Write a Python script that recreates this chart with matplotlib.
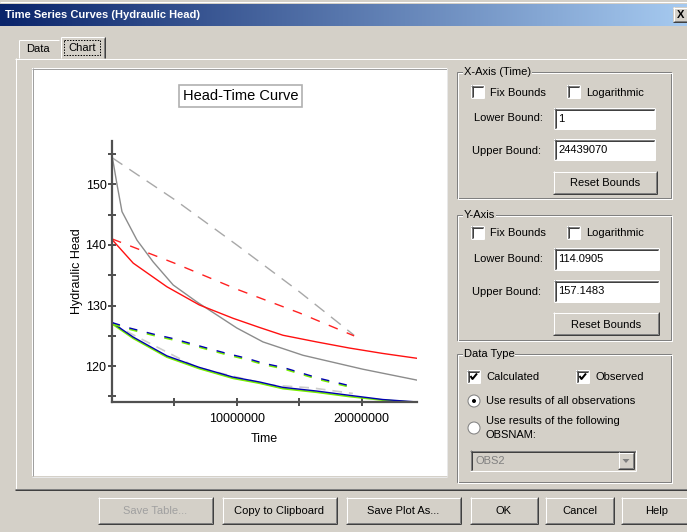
import numpy as np
import matplotlib
matplotlib.use("Agg")
import matplotlib.pyplot as plt
from matplotlib.patches import Rectangle, Circle, Polygon
from matplotlib.ticker import MultipleLocator, FuncFormatter

plt.rcParams['font.family'] = ['Liberation Sans', 'DejaVu Sans']
plt.rcParams['lines.scale_dashes'] = False

# ---- data (time in millions, head) ----
gray_calc_t = [0, 0.4, 0.8, 2.0, 3.3, 4.9, 6.8, 10.0, 12.1, 15.3, 20.1, 24.44]
gray_calc_h = [154.8, 150.0, 145.5, 140.8, 137.2, 133.4, 130.6, 126.3, 124.0, 121.8, 119.5, 117.7]
gray_obs_t = [0, 5.0, 10.0, 15.0, 19.4]
gray_obs_h = [154.4, 147.5, 140.0, 132.3, 125.1]

red_calc_t = [0, 1.7, 4.4, 7.0, 9.7, 11.8, 13.7, 16.4, 19.0, 21.7, 24.44]
red_calc_h = [140.9, 137.0, 133.1, 130.1, 127.9, 126.4, 125.1, 124.0, 123.0, 122.1, 121.3]
red_obs_t = [0, 5.0, 10.0, 15.0, 19.4]
red_obs_h = [141.0, 137.0, 132.7, 128.8, 125.0]

blue_calc_t = [0, 1.7, 4.4, 7.0, 9.7, 11.8, 13.7, 16.4, 19.0, 21.7, 24.44]
blue_calc_h = [127.2, 124.8, 121.7, 119.8, 118.2, 117.4, 116.5, 115.9, 115.2, 114.5, 114.1]
green_calc_h = [127.0, 124.6, 121.5, 119.6, 118.0, 117.2, 116.3, 115.7, 115.0, 114.4, 114.0]
blue_obs_t = [0, 1.4, 3.3, 4.8, 6.2, 7.6, 9.2, 10.8, 12.1, 13.7, 15.3, 16.6, 18.2, 19.4]
blue_obs_h = [127.2, 126.3, 125.3, 124.6, 123.8, 123.0, 122.1, 121.3, 120.5, 119.8, 118.8, 118.0, 117.2, 116.6]
green_obs_h = [127.0, 126.1, 125.1, 124.4, 123.6, 122.8, 121.9, 121.1, 120.3, 119.6, 118.6, 117.8, 117.0, 116.4]
lgray_obs_t = [0, 2.24, 6.8, 12.6, 16.1, 19.3]
lgray_obs_h = [127.0, 124.6, 119.8, 116.9, 116.4, 115.5]

x_lower, x_upper = 1, 24439070
y_lower, y_upper = 114.0905, 157.1483

FACE = '#d4d0c8'
PX = 0.72

fig = plt.figure(figsize=(6.87, 5.32), dpi=100)
fig.patch.set_facecolor(FACE)
bg = fig.add_axes([0, 0, 1, 1])
bg.set_xlim(0, 687)
bg.set_ylim(532, 0)
bg.axis('off')


def hline(x0, x1, y, c):
    bg.plot([x0, x1], [y, y], color=c, lw=PX, solid_capstyle='butt')


def vline(x, y0, y1, c):
    bg.plot([x, x], [y0, y1], color=c, lw=PX, solid_capstyle='butt')


def rect(x0, y0, x1, y1, fc):
    bg.add_patch(Rectangle((x0, y0), x1 - x0, y1 - y0, facecolor=fc, edgecolor='none'))


def raised(x0, y0, x1, y1):
    rect(x0, y0, x1, y1, FACE)
    hline(x0, x1, y0 + 0.5, 'white')
    vline(x0 + 0.5, y0, y1, 'white')
    hline(x0, x1, y1 - 0.5, '#404040')
    vline(x1 - 0.5, y0, y1, '#404040')
    hline(x0 + 1, x1 - 1, y1 - 1.5, '#808080')
    vline(x1 - 1.5, y0 + 1, y1 - 1, '#808080')


def sunken(x0, y0, x1, y1, fc='white'):
    rect(x0, y0, x1, y1, fc)
    hline(x0, x1, y0 + 0.5, '#808080')
    vline(x0 + 0.5, y0, y1, '#808080')
    hline(x0 + 1, x1 - 1, y0 + 1.5, '#404040')
    vline(x0 + 1.5, y0 + 1, y1 - 1, '#404040')
    hline(x0, x1, y1 - 0.5, 'white')
    vline(x1 - 0.5, y0, y1, 'white')


def ui_text(x, y, s, color='black', ha='left', **kw):
    bg.text(x, y + 1, s, color=color, ha=ha, va='center', fontsize=8, **kw)


def button(x0, y0, x1, y1, label, color='black'):
    raised(x0, y0, x1, y1)
    ui_text((x0 + x1) / 2, (y0 + y1) / 2, label, color=color, ha='center')


def group(x0, y0, x1, y1, label):
    bg.add_patch(Rectangle((x0, y0), x1 - x0 - 1, y1 - y0 - 1, fill=False,
                           edgecolor='#808080', lw=PX))
    bg.add_patch(Rectangle((x0 + 1, y0 + 1), x1 - x0 - 1, y1 - y0 - 1, fill=False,
                           edgecolor='white', lw=PX))
    ui_text(x0 + 7, y0 - 1, label, bbox=dict(fc=FACE, ec='none', pad=0.5))


def checkbox(x, y, label, checked=False):
    sunken(x, y, x + 13, y + 13)
    if checked:
        bg.plot([x + 3.5, x + 5.5, x + 10], [y + 6, y + 9, y + 3.5], color='black',
                lw=2 * PX, solid_capstyle='butt')
    ui_text(x + 19, y + 6.5, label)


def radio(cx, cy, selected=False):
    bg.add_patch(Circle((cx, cy), 6, facecolor='white', edgecolor='#808080', lw=PX))
    if selected:
        bg.add_patch(Circle((cx, cy), 2, facecolor='black', edgecolor='none'))


# title bar
grad = np.linspace(0, 1, 256)
c0 = np.array([10, 36, 106]) / 255
c1 = np.array([166, 202, 240]) / 255
img = (c0[None, :] * (1 - grad[:, None]) + c1[None, :] * grad[:, None])[None, :, :]
bg.imshow(img, extent=(0, 687, 26, 4), aspect='auto', zorder=0.5)
bg.text(5, 15, 'Time Series Curves (Hydraulic Head)', color='white', fontsize=8,
        fontweight='bold', va='center', ha='left')
raised(673, 7, 689, 22)
bg.text(681, 14.5, 'X', fontsize=8, fontweight='bold', ha='center', va='center')
hline(0, 687, 1.5, 'white')

# tab panel
hline(15, 687, 58.5, 'white')
vline(15.5, 58, 489, 'white')
hline(15, 687, 488.5, '#808080')
hline(15, 687, 489.5, '#404040')

# tabs
rect(18, 39, 59, 58, FACE)
hline(19, 59, 39.5, 'white')
vline(18.5, 40, 58, 'white')
ui_text(38, 48, 'Data', ha='center')
rect(60, 36, 105, 59.5, FACE)
hline(61, 104, 36.5, 'white')
vline(60.5, 37, 58, 'white')
vline(104.5, 37, 58, '#404040')
vline(103.5, 38, 58, '#808080')
ui_text(82, 47, 'Chart', ha='center')
bg.add_patch(Rectangle((64, 40), 36, 15, fill=False, edgecolor='black', lw=PX,
                       linestyle=(0, (1, 1))))

# chart white area
rect(32, 68, 447, 476, 'white')
hline(32, 447, 68.5, '#a0a0a0')
vline(32.5, 68, 476, '#a0a0a0')
hline(32, 447, 476.5, '#e8e8e8')
vline(446.5, 68, 476, '#e8e8e8')
bg.text(240.5, 96, 'Head-Time Curve', fontsize=10.5, ha='center', va='center',
        bbox=dict(boxstyle='square,pad=0.25', fc='white', ec='#b0b0b0', lw=1.2))

# X axis group
group(457, 72, 672, 199, 'X-Axis (Time)')
checkbox(471, 85, 'Fix Bounds')
checkbox(567, 85, 'Logarithmic')
ui_text(474, 117, 'Lower Bound:')
sunken(554, 108, 655, 129)
ui_text(558, 118, '1')
ui_text(472, 150, 'Upper Bound:')
sunken(554, 139, 655, 160)
ui_text(558, 149, '24439070')
button(553, 171, 657, 194, 'Reset Bounds')

# Y axis group
group(457, 215, 672, 341, 'Y-Axis')
checkbox(471, 226, 'Fix Bounds')
checkbox(567, 226, 'Logarithmic')
ui_text(474, 258, 'Lower Bound:')
sunken(554, 248, 659, 270)
ui_text(558, 258.5, '114.0905')
ui_text(472, 291, 'Upper Bound:')
sunken(554, 280, 659, 302)
ui_text(558, 290, '157.1483')
button(553, 312, 659, 335, 'Reset Bounds')

# Data type group
group(457, 354, 672, 483, 'Data Type')
checkbox(467, 370, 'Calculated', checked=True)
checkbox(576, 370, 'Observed', checked=True)
radio(474, 401, selected=True)
ui_text(486, 400, 'Use results of all observations')
radio(474, 428)
ui_text(486, 420, 'Use results of the following')
ui_text(486, 434, 'OBSNAM:')
sunken(470, 450, 636, 471, fc=FACE)
ui_text(475, 460, 'OBS2', color='#808080')
raised(618, 452, 634, 469)
bg.add_patch(Polygon([[622.5, 459], [629.5, 459], [626, 463]], closed=True,
                     facecolor='#808080', edgecolor='none'))

# bottom buttons
button(98, 497, 213, 524, 'Save Table...', color='#a0a0a0')
button(222, 497, 337, 524, 'Copy to Clipboard')
button(346, 497, 461, 524, 'Save Plot As...')
button(470, 497, 538, 524, 'OK')
button(545, 497, 614, 524, 'Cancel')
button(621, 497, 692, 524, 'Help')

# ---- chart ----
ax = fig.add_axes([112 / 687, (532 - 402) / 532, (417 - 112) / 687, (402 - 141) / 532])
ax.patch.set_alpha(0)


def T(t):
    return np.array(t) * 1e6


ax.plot(T(gray_calc_t), gray_calc_h, color='#8c8c8c', lw=1.0)
ax.plot(T(gray_obs_t), gray_obs_h, color='#a8a8a8', lw=1.0, dashes=(9, 6))
ax.plot(T(red_calc_t), red_calc_h, color='#ff1010', lw=1.0)
ax.plot(T(red_obs_t), red_obs_h, color='#ff2020', lw=1.0, dashes=(7, 7))
ax.plot(T(lgray_obs_t), lgray_obs_h, color='#cccccc', lw=1.2, dashes=(7, 5))
ax.plot(T(blue_calc_t), green_calc_h, color='#77ee00', lw=1.3)
ax.plot(T(blue_calc_t), blue_calc_h, color='#0000b0', lw=1.0)
ax.plot(T(blue_obs_t), green_obs_h, color='#77ee00', lw=1.3, dashes=(6, 7))
ax.plot(T(blue_obs_t), blue_obs_h, color='#0000b0', lw=1.0, dashes=(6, 7))

ax.set_xlim(x_lower, x_upper)
ax.set_ylim(y_lower, y_upper)
for s in ['top', 'right']:
    ax.spines[s].set_visible(False)
for s in ['left', 'bottom']:
    ax.spines[s].set_color('#505050')
    ax.spines[s].set_linewidth(1.6)

ax.xaxis.set_major_locator(MultipleLocator(1e7))
ax.xaxis.set_minor_locator(MultipleLocator(5e6))
ax.xaxis.set_major_formatter(FuncFormatter(lambda v, p: '%d' % v if v > 0 else ''))
ax.yaxis.set_major_locator(MultipleLocator(10))
ax.yaxis.set_minor_locator(MultipleLocator(5))
ax.yaxis.set_major_formatter(FuncFormatter(lambda v, p: '%d' % v))
ax.tick_params(which='both', direction='inout', length=6, width=1.2, color='#303030',
               labelsize=9)
ax.tick_params(axis='x', pad=5)
ax.tick_params(axis='y', pad=1)
ax.set_xlabel('Time', fontsize=9, labelpad=6)
ax.set_ylabel('Hydraulic Head', fontsize=9, labelpad=2)

fig.savefig('out.png', dpi=100, facecolor=FACE)
